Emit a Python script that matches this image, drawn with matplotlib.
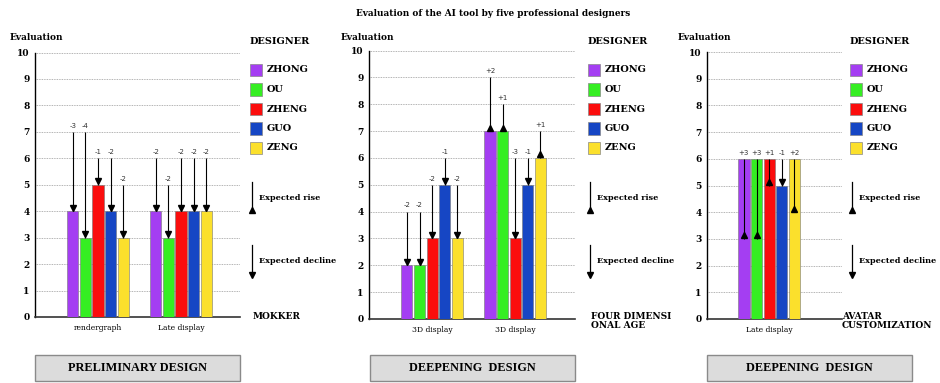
import matplotlib
matplotlib.use("Agg")
import matplotlib.pyplot as plt
from matplotlib.patches import Rectangle

W, H = 940, 383

designers = ["ZHONG", "OU", "ZHENG", "GUO", "ZENG"]
colors = ["#a43ef2", "#35ee22", "#fb0d0d", "#1646c4", "#fbe02c"]

# Panel 1: Preliminary design
p1_groups = ["rendergraph", "Late display"]
p1_scores = [[4, 4], [3, 3], [5, 4], [4, 4], [3, 4]]
p1_changes = [["-3", "-2"], ["-4", "-2"], ["-1", "-2"], ["-2", "-2"], ["-2", "-2"]]
p1_arrow_from = [[7, 6], [7, 5], [6, 6], [6, 6], [5, 6]]
p1_arrow_to = [[4, 4], [3, 3], [5, 4], [4, 4], [3, 4]]

# Panel 2: Deepening design (four dimensional age)
p2_groups = ["3D display", "3D display"]
p2_scores = [[2, 7], [2, 7], [3, 3], [5, 5], [3, 6]]
p2_changes = [["-2", "+2"], ["-2", "+1"], ["-2", "-3"], ["-1", "-1"], ["-2", "+1"]]
p2_arrow_from = [[4, 9], [4, 8], [5, 6], [6, 6], [5, 7]]
p2_arrow_to = [[2, 7], [2, 7], [3, 3], [5, 5], [3, 6]]

# Panel 3: Deepening design (avatar customization)
p3_groups = ["Late display"]
p3_scores = [[6], [6], [6], [5], [6]]
p3_changes = [["+3"], ["+3"], ["+1"], ["-1"], ["+2"]]
p3_arrow_from = [[6], [6], [6], [6], [6]]
p3_arrow_to = [[3], [3], [5], [5], [4]]

yticks = list(range(0, 11))

SERIF = "DejaVu Serif"

fig = plt.figure(figsize=(W / 100, H / 100), dpi=100)


def px_axes(x0, x1, ytop, ybot):
    return fig.add_axes([x0 / W, 1 - ybot / H, (x1 - x0) / W, (ybot - ytop) / H])


def draw_panel(ax, groups, scores, changes, afrom, ato, xlim):
    n = len(designers)
    step = 0.152
    width = 0.135
    for i in range(n):
        xs = [g + (i - (n - 1) / 2) * step for g in range(len(groups))]
        ax.bar(xs, scores[i], width=width, color=colors[i], edgecolor="#777777",
               linewidth=0.4, zorder=3)
        for j, x in enumerate(xs):
            top, bot = afrom[i][j], ato[i][j]
            ax.plot([x, x], [top, bot], color="black", lw=0.8, zorder=5,
                    solid_capstyle="butt")
            rise = changes[i][j].startswith("+")
            ax.plot([x], [bot + 0.13], marker="^" if rise else "v",
                    color="black", markersize=4, zorder=6)
            ax.text(x, top + 0.12, changes[i][j], ha="center", va="bottom",
                    fontsize=5, color="#333333", family="DejaVu Sans", zorder=6)
    ax.set_xlim(*xlim)
    ax.set_ylim(0, 10)
    ax.set_yticks(yticks)
    ax.set_yticklabels([str(t) for t in yticks], family=SERIF, fontweight="bold",
                       fontsize=6.5)
    ax.set_xticks(range(len(groups)))
    ax.set_xticklabels(groups, family=SERIF, fontsize=5.5)
    ax.tick_params(axis="both", length=0, pad=4)
    ax.tick_params(axis="x", pad=5)
    for t in yticks[1:]:
        ax.axhline(t, color="#9a9a9a", lw=0.6, ls=(0, (1, 1)), zorder=1)
    for s in ["top", "right"]:
        ax.spines[s].set_visible(False)
    ax.spines["left"].set_linewidth(1.0)
    ax.spines["bottom"].set_linewidth(1.2)
    ax.spines["bottom"].set_color("#333333")
    ax.patch.set_alpha(0)


def side_legend(xl, footer, evx):
    fig.text(evx / W, 1 - 37 / H, "Evaluation", family=SERIF, fontweight="bold",
             fontsize=6.5, va="center", ha="left")
    fig.text(xl / W, 1 - 42 / H, "DESIGNER", family=SERIF, fontweight="bold",
             fontsize=7, va="center", ha="left")
    rows = [70, 89.5, 109, 128.5, 148]
    for name, c, y in zip(designers, colors, rows):
        fig.patches.append(Rectangle((xl / W, 1 - (y + 6) / H), 12 / W, 12 / H,
                                     transform=fig.transFigure, facecolor=c,
                                     edgecolor="#888888", lw=0.5))
        fig.text((xl + 17) / W, 1 - y / H, name, family=SERIF, fontweight="bold",
                 fontsize=7, va="center", ha="left")
    ax = xl + 2
    fig.add_artist(plt.Line2D([ax / W, ax / W], [1 - 182 / H, 1 - 211 / H],
                              color="black", lw=0.9))
    fig.add_artist(plt.Line2D([ax / W], [1 - 210 / H], marker="^", color="black",
                              markersize=4))
    fig.text((xl + 9) / W, 1 - 198 / H, "Expected rise", family=SERIF,
             fontweight="bold", fontsize=5.9, va="center", ha="left")
    fig.add_artist(plt.Line2D([ax / W, ax / W], [1 - 245 / H, 1 - 274 / H],
                              color="black", lw=0.9))
    fig.add_artist(plt.Line2D([ax / W], [1 - 275 / H], marker="v", color="black",
                              markersize=4))
    fig.text((xl + 9) / W, 1 - 261 / H, "Expected decline", family=SERIF,
             fontweight="bold", fontsize=5.9, va="center", ha="left")
    fig.text((xl + 3) / W, 1 - 312 / H, footer, family=SERIF, fontweight="bold",
             fontsize=6.5, va="top", ha="left", linespacing=1.0)


def bottom_box(x0, x1, label):
    fig.patches.append(Rectangle((x0 / W, 1 - 381 / H), (x1 - x0) / W, 26 / H,
                                 transform=fig.transFigure, facecolor="#dcdcdc",
                                 edgecolor="#8a8a8a", lw=1.0))
    fig.text((x0 + x1) / 2 / W, 1 - 368 / H, label, family="Liberation Serif",
             fontweight="bold", fontsize=8.8, va="center", ha="center")


ax1 = px_axes(35, 240, 52.5, 317)
draw_panel(ax1, p1_groups, p1_scores, p1_changes, p1_arrow_from, p1_arrow_to,
           (-0.76, 1.71))
ax2 = px_axes(369, 575, 50.5, 319)
draw_panel(ax2, p2_groups, p2_scores, p2_changes, p2_arrow_from, p2_arrow_to,
           (-0.76, 1.72))
ax3 = px_axes(707, 842, 52, 319)
draw_panel(ax3, p3_groups, p3_scores, p3_changes, p3_arrow_from, p3_arrow_to,
           (-0.75, 0.88))

side_legend(250, "MOKKER", 10)
side_legend(588, "FOUR DIMENSI\nONAL AGE", 341)
side_legend(850, "", 678)
fig.text(842 / W, 1 - 312 / H, "AVATAR\nCUSTOMIZATION", family=SERIF,
         fontweight="bold", fontsize=6.5, va="top", ha="left", linespacing=1.0)

bottom_box(35, 240, "PRELIMINARY DESIGN")
bottom_box(370, 575, "DEEPENING  DESIGN")
bottom_box(707, 912, "DEEPENING  DESIGN")

fig.text(493 / W, 1 - 14 / H, "Evaluation of the AI tool by five professional designers",
         family=SERIF, fontweight="bold", fontsize=6.4, ha="center", va="center")

fig.savefig("out.png", dpi=100)
